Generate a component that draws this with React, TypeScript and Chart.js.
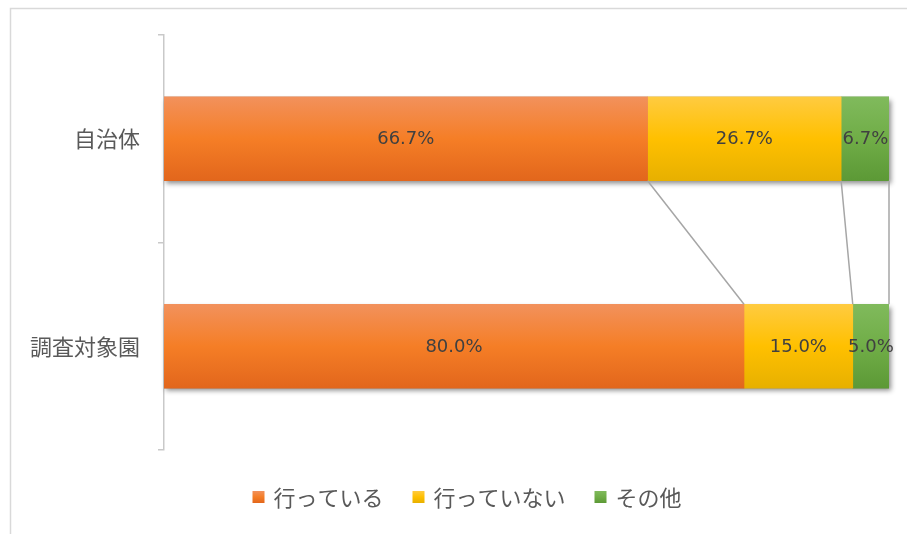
import React, { useEffect, useRef } from "react";
import { Chart, registerables } from "chart.js";

Chart.register(...registerables);

const categories = ["自治体", "調査対象園"];
const seriesNames = ["行っている", "行っていない", "その他"];
const doing = [66.7, 80.0];
const notDoing = [26.7, 15.0];
const other = [6.7, 5.0];

const palettes: string[][] = [
  ["#F2915C", "#F57E26", "#E2661C"],
  ["#FFCB40", "#FFC000", "#E7B000"],
  ["#80BA5C", "#70AD47", "#5C9936"],
];

const BAR = 84;
const TEXT = "#595959";
const JP = '"Noto Sans CJK JP", "Noto Sans", sans-serif';

function grad(ctx: CanvasRenderingContext2D, top: number, bottom: number, p: string[]) {
  if (!isFinite(top) || !isFinite(bottom)) return p[1];
  const g = ctx.createLinearGradient(0, top, 0, bottom);
  g.addColorStop(0, p[0]);
  g.addColorStop(0.5, p[1]);
  g.addColorStop(1, p[2]);
  return g;
}

const framePlugin = {
  id: "frame",
  beforeDraw(chart: any) {
    const ctx = chart.ctx;
    ctx.save();
    ctx.strokeStyle = "#d9d9d9";
    ctx.lineWidth = 1.5;
    ctx.strokeRect(10.5, 8.5, 920, 560);
    ctx.restore();
  },
};

const shadowPlugin = {
  id: "barShadow",
  beforeDatasetsDraw(chart: any) {
    const ctx = chart.ctx;
    const xs = chart.scales.x;
    const ys = chart.scales.y;
    ctx.save();
    ctx.shadowColor = "rgba(0,0,0,0.45)";
    ctx.shadowBlur = 5;
    ctx.shadowOffsetX = 2;
    ctx.shadowOffsetY = 3;
    ctx.fillStyle = "#888";
    categories.forEach((_, i) => {
      const yc = ys.getPixelForValue(i);
      const total = doing[i] + notDoing[i] + other[i];
      const x0 = xs.getPixelForValue(0);
      const x1 = xs.getPixelForValue(Math.min(total, 100));
      ctx.fillRect(x0, yc - BAR / 2, x1 - x0, BAR);
    });
    ctx.restore();
  },
};

const overlayPlugin = {
  id: "overlay",
  afterDatasetsDraw(chart: any) {
    const ctx = chart.ctx;
    const xs = chart.scales.x;
    const ys = chart.scales.y;
    const series = [doing, notDoing, other];
    ctx.save();
    ctx.strokeStyle = "#a6a6a6";
    ctx.lineWidth = 1.5;
    let c0 = 0;
    let c1 = 0;
    series.forEach((s) => {
      c0 += s[0];
      c1 += s[1];
      const y0 = ys.getPixelForValue(0) + BAR / 2;
      const y1 = ys.getPixelForValue(1) - BAR / 2;
      ctx.beginPath();
      ctx.moveTo(xs.getPixelForValue(Math.min(c0, 100)), y0);
      ctx.lineTo(xs.getPixelForValue(Math.min(c1, 100)), y1);
      ctx.stroke();
    });
    ctx.fillStyle = "#404040";
    ctx.font = '18px "DejaVu Sans", sans-serif';
    ctx.textAlign = "center";
    ctx.textBaseline = "middle";
    chart.data.datasets.forEach((ds: any, di: number) => {
      const meta = chart.getDatasetMeta(di);
      meta.data.forEach((el: any, i: number) => {
        const v = ds.data[i];
        const cx = (el.x + el.base) / 2;
        ctx.fillText(v.toFixed(1) + "%", cx, el.y + 1);
      });
    });
    ctx.restore();
  },
  afterDraw(chart: any) {
    const ctx = chart.ctx;
    ctx.save();
    ctx.font = "22px " + JP;
    ctx.textBaseline = "middle";
    ctx.textAlign = "left";
    const box = 12;
    const gapText = 9;
    const gapItem = 29;
    const widths = seriesNames.map((n) => ctx.measureText(n).width);
    let total = 0;
    widths.forEach((w, i) => {
      total += box + gapText + w + (i < widths.length - 1 ? gapItem : 0);
    });
    let x = 467 - total / 2;
    const yc = 497;
    seriesNames.forEach((n, i) => {
      ctx.fillStyle = grad(ctx, yc - box / 2, yc + box / 2, palettes[i]);
      ctx.fillRect(x, yc - box / 2, box, box);
      x += box + gapText;
      ctx.fillStyle = TEXT;
      ctx.fillText(n, x, yc + 1);
      x += widths[i] + gapItem;
    });
    ctx.restore();
  },
};

export default function App() {
  const ref = useRef<HTMLCanvasElement | null>(null);
  useEffect(() => {
    if (!ref.current) return;
    const mk = (idx: number) => (c: any) => {
      const ys = c.chart.scales && c.chart.scales.y;
      if (!ys || c.dataIndex === undefined) return palettes[idx][1];
      const yc = ys.getPixelForValue(c.dataIndex);
      return grad(c.chart.ctx, yc - BAR / 2, yc + BAR / 2, palettes[idx]);
    };
    const chart = new Chart(ref.current, {
      type: "bar",
      data: {
        labels: categories,
        datasets: [
          { label: seriesNames[0], data: doing, backgroundColor: mk(0) },
          { label: seriesNames[1], data: notDoing, backgroundColor: mk(1) },
          { label: seriesNames[2], data: other, backgroundColor: mk(2) },
        ],
      },
      options: {
        indexAxis: "y",
        responsive: false,
        animation: false,
        layout: { padding: { left: 0, top: 35, right: 18, bottom: 84 } },
        datasets: { bar: { barThickness: BAR, borderWidth: 0 } },
        scales: {
          x: { stacked: true, min: 0, max: 100, display: false },
          y: {
            stacked: true,
            afterFit: (s: any) => {
              s.width = 164;
            },
            grid: {
              offset: true,
              drawOnChartArea: false,
              drawTicks: true,
              tickLength: 6,
              color: "#c9c9c9",
              lineWidth: 1.5,
            },
            border: { display: true, color: "#c9c9c9", width: 1.5 },
            ticks: {
              padding: 18,
              color: TEXT,
              font: { size: 22, family: JP },
            },
          },
        },
        plugins: {
          legend: { display: false },
          tooltip: { enabled: false },
        },
      } as any,
      plugins: [framePlugin, shadowPlugin, overlayPlugin],
    });
    return () => chart.destroy();
  }, []);
  return (
    <div style={{ position: "absolute", left: 0, top: 0, width: 907, height: 534, background: "#fff" }}>
      <canvas ref={ref} width={907} height={534} />
    </div>
  );
}
